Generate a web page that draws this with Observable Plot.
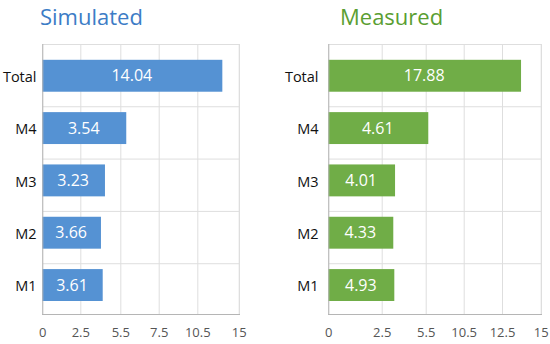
<!DOCTYPE html>
<html>
<head>
<meta charset="utf-8">
<script src="https://cdn.jsdelivr.net/npm/d3@7"></script>
<script src="https://cdn.jsdelivr.net/npm/@observablehq/plot@0.6"></script>
<style>
  body { margin: 0; background: #fff; font-family: "Open Sans", sans-serif; }
  #wrap { position: relative; width: 550px; height: 344px; overflow: hidden; }
  .panel { position: absolute; top: 0; width: 275px; height: 344px; }
  .title { position: absolute; top: 1px; font-size: 22px; line-height: 30px; white-space: nowrap; }
  .chart { position: absolute; top: 36px; left: 0; }
</style>
</head>
<body>
<div id="wrap"></div>
<script>
const categories = ["Total", "M4", "M3", "M2", "M1"];
const simulatedValues = [14.04, 3.54, 3.23, 3.66, 3.61];
const measuredValues = [17.88, 4.61, 4.01, 4.33, 4.93];
// bar extents as drawn in the picture, read in axis units
const simulatedBarLengths = [13.22, 5.81, 4.35, 4.05, 4.18];
const measuredBarLengths = [13.73, 5.84, 3.41, 3.29, 3.36];
const simulatedTicks = [0, 2.5, 5.5, 7.5, 10.5, 15];
const measuredTicks = [0, 2.5, 5.5, 10.5, 12.5, 15];

function panel({title, titleColor, titleLeft, left, fill, values, lengths, ticks, xRange, marginLeft, marginRight, yPad}) {
  const div = document.createElement("div");
  div.className = "panel";
  div.style.left = left + "px";
  const t = document.createElement("div");
  t.className = "title";
  t.style.left = titleLeft + "px";
  t.style.color = titleColor;
  t.textContent = title;
  div.appendChild(t);

  const data = categories.map((c, i) => ({cat: c, value: values[i], len: lengths[i]}));
  const xs = d3.scaleLinear().domain(ticks).range(xRange);
  const mid = len => xs.invert((xs(0) + xs(len)) / 2);

  const chart = Plot.plot({
    width: 275,
    height: 308,
    marginTop: 8,
    marginBottom: 30,
    marginLeft,
    marginRight,
    style: {fontFamily: "Open Sans, sans-serif", fontSize: "13px", color: "#555", background: "transparent"},
    x: {type: "linear", domain: ticks, range: xRange},
    y: {domain: categories, range: [13.6, 275.2], paddingInner: 0.39, paddingOuter: 0.195, round: false},
    marks: [
      Plot.frame({stroke: "#dedede"}),
      Plot.ruleX(ticks.slice(1), {stroke: "#dedede"}),
      Plot.ruleY(categories.slice(0, 4), {stroke: "#dedede", dy: 30.5}),
      Plot.barX(data, {x: "len", y: "cat", fill}),
      Plot.ruleX([0], {stroke: "#b5b5b5"}),
      Plot.frame({anchor: "bottom", stroke: "#b5b5b5"}),
      Plot.text(data, {x: d => mid(d.len), y: "cat", text: d => d.value.toFixed(2), fill: "white", fontSize: 16, dx: -1}),
      Plot.axisX({ticks, tickSize: 0, tickPadding: 13, tickFormat: d => String(d), label: null, fontSize: 13, fill: "#555"}),
      Plot.axisY({tickSize: 0, tickPadding: yPad, label: null, fontSize: 14.5, fill: "#111", dy: 1})
    ]
  });
  chart.classList.add("chart");
  div.appendChild(chart);
  document.getElementById("wrap").appendChild(div);
}

panel({
  title: "Simulated", titleColor: "#3c7cc6", titleLeft: 40, left: 0, fill: "#5592d3",
  values: simulatedValues, lengths: simulatedBarLengths, ticks: simulatedTicks,
  xRange: [42.3, 80.3, 120.3, 158.7, 197.3, 238.7], marginLeft: 42, marginRight: 36, yPad: 6
});
panel({
  title: "Measured", titleColor: "#5a9e32", titleLeft: 65, left: 275, fill: "#70ad47",
  values: measuredValues, lengths: measuredBarLengths, ticks: measuredTicks,
  xRange: [53.3, 106.7, 150.7, 188.7, 227, 265.7], marginLeft: 53, marginRight: 9, yPad: 10
});
</script>
</body>
</html>
